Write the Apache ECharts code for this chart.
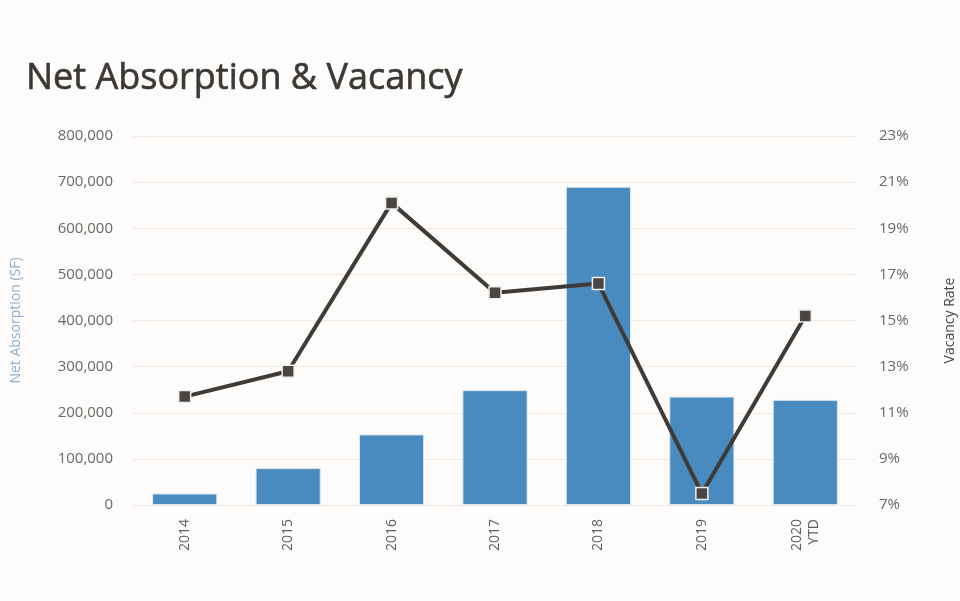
<!DOCTYPE html>
<html>
<head>
<meta charset="utf-8">
<script src="https://cdn.jsdelivr.net/npm/echarts@6/dist/echarts.min.js"></script>
<style>
html,body{margin:0;padding:0;background:#fdfcfa;}
#chart{width:960px;height:601px;}
</style>
</head>
<body>
<div id="chart"></div>
<script>
var years = ['2014', '2015', '2016', '2017', '2018', '2019', '2020\nYTD'];
var absorption = [25000, 80000, 153000, 249000, 690000, 235000, 228000];
var vacancy = [11.7, 12.8, 20.1, 16.2, 16.6, 7.5, 15.2];

var myChart = echarts.init(document.getElementById('chart'));
var option = {
    backgroundColor: '#fdfcfa',
    textStyle: { fontFamily: 'Open Sans' },
    title: {
        text: 'Net Absorption & Vacancy',
        left: 21,
        top: 56,
        textStyle: { fontFamily: 'Open Sans', fontSize: 36, fontWeight: 'normal', color: '#3b3836', textBorderColor: '#3b3836', textBorderWidth: 0.6 }
    },
    grid: { left: 133, right: 103, top: 136, bottom: 96, outerBoundsMode: 'none' },
    xAxis: {
        type: 'category',
        data: years,
        axisLine: { show: false },
        axisTick: { show: false },
        axisLabel: {
            rotate: 90,
            margin: 14,
            fontSize: 14,
            lineHeight: 17,
            color: '#5f5c5a'
        }
    },
    yAxis: [{
        type: 'value',
        min: 0,
        max: 800000,
        interval: 100000,
        name: 'Net Absorption (SF)',
        nameLocation: 'middle',
        nameGap: 110,
        nameTextStyle: { color: '#8db0d2', fontSize: 14 },
        axisLine: { show: false },
        axisTick: { show: false },
        axisLabel: {
            margin: 20,
            fontSize: 15,
            color: '#6b6866',
            formatter: function (v) { return v.toLocaleString('en-US'); }
        },
        splitLine: { lineStyle: { color: '#f0e6e2', width: 1 } }
    }, {
        type: 'value',
        min: 7,
        max: 23,
        interval: 2,
        name: 'Vacancy Rate',
        nameLocation: 'middle',
        nameGap: 86,
        nameRotate: 90,
        nameTextStyle: { color: '#4a4745', fontSize: 14 },
        axisLine: { show: false },
        axisTick: { show: false },
        axisLabel: {
            margin: 22,
            fontSize: 15,
            color: '#6b6866',
            formatter: '{value}%'
        },
        splitLine: { show: false }
    }],
    series: [{
        name: 'Net Absorption (SF)',
        type: 'bar',
        data: absorption,
        barWidth: '63%',
        itemStyle: { color: '#4a8bbf', borderColor: '#dbe7f1', borderWidth: 1 }
    }, {
        name: 'Vacancy Rate',
        type: 'line',
        yAxisIndex: 1,
        data: vacancy,
        symbol: 'rect',
        symbolSize: 12,
        lineStyle: { color: '#3f3b38', width: 4 },
        itemStyle: { color: '#4b4641', borderColor: '#eeeeee', borderWidth: 1.5 }
    }]
};
myChart.setOption(option);
</script>
</body>
</html>
